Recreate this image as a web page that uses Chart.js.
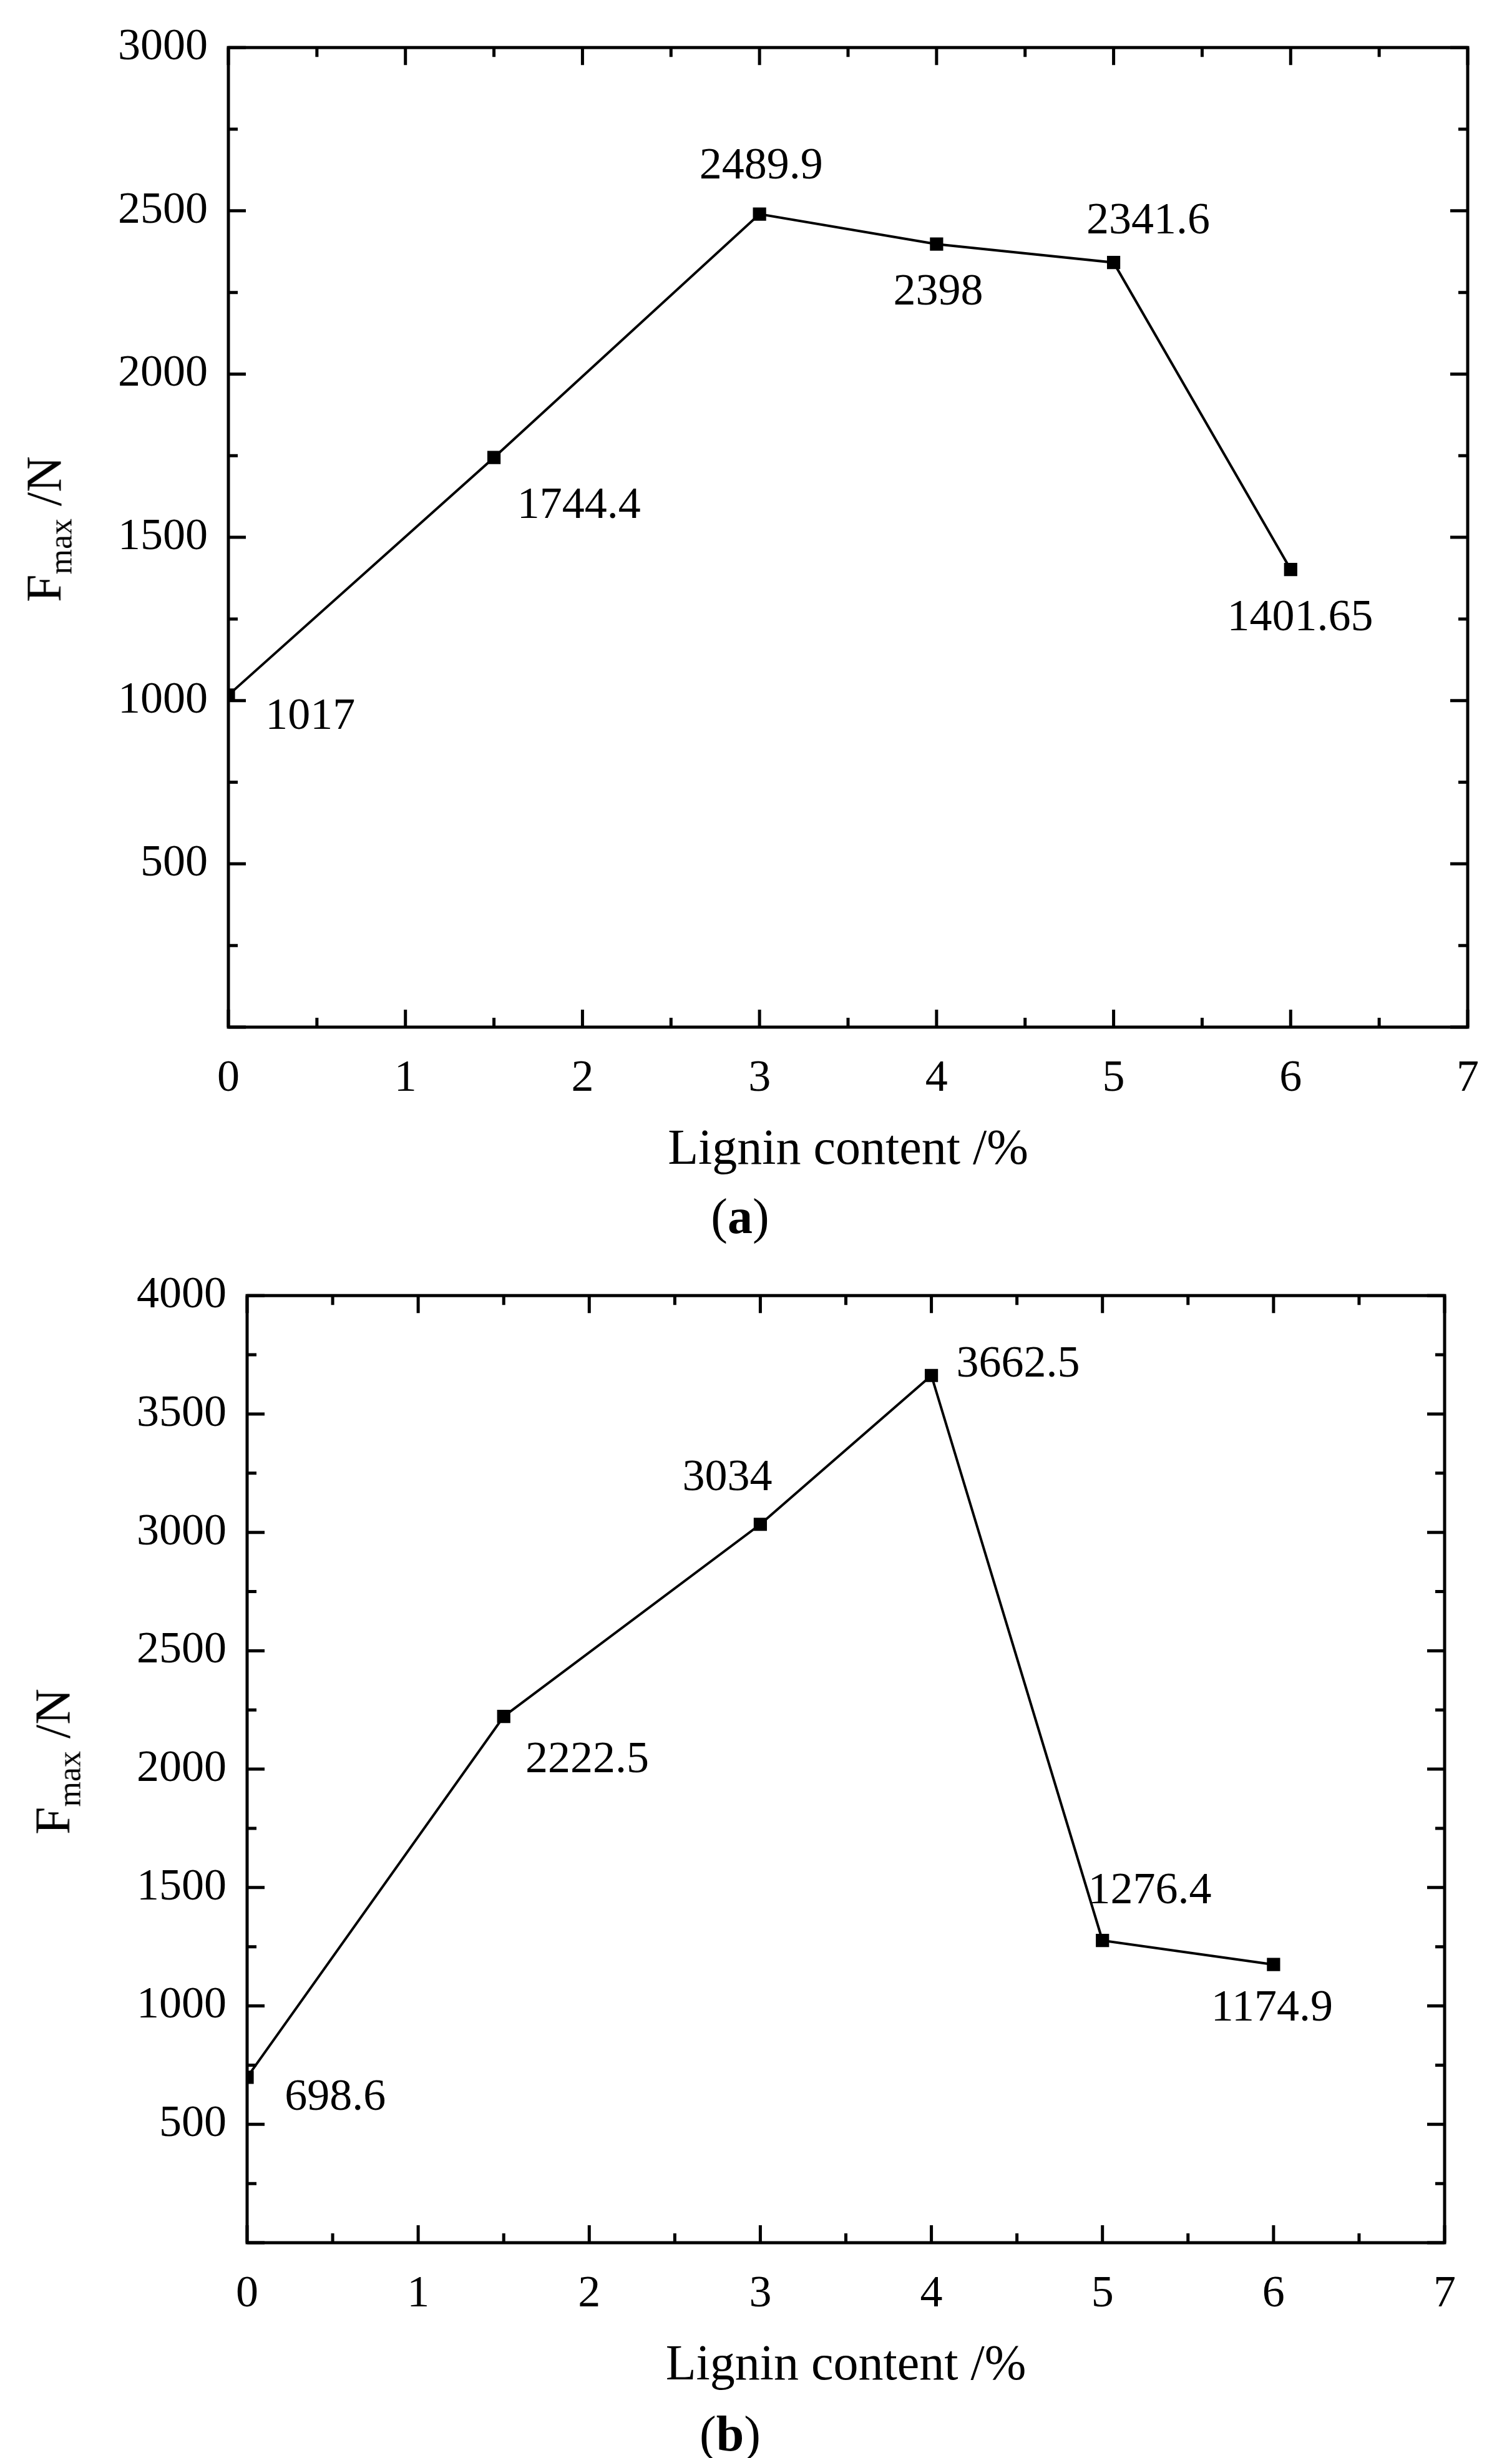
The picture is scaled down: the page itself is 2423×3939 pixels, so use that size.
<!DOCTYPE html>
<html><head><meta charset="utf-8">
<script src="https://cdn.jsdelivr.net/npm/chart.js@4/dist/chart.umd.min.js"></script>
<style>
body{margin:0;background:#fff;width:2423px;height:3939px;position:relative;font-family:"Liberation Serif","DejaVu Serif",serif;}
.box{position:absolute;left:0;width:2423px;}
.yt{position:absolute;font-size:80px;white-space:nowrap;transform:translate(-50%,-50%) rotate(-90deg);}
.yt sub{font-size:52px;}
.cap{position:absolute;font-size:80px;transform:translate(-50%,-50%);}
</style></head><body>
<div class="box" style="top:0;height:1896px"><canvas id="ca"></canvas></div>
<div class="box" style="top:2000px;height:1844px"><canvas id="cb"></canvas></div>
<div class="yt" style="left:76px;top:848px">F<sub>max</sub> /N</div>
<div class="yt" style="left:90px;top:2823px">F<sub>max</sub> /N</div>
<div class="cap" style="left:1186px;top:1949px">(<b>a</b>)</div>
<div class="cap" style="left:1170px;top:3900px">(<b>b</b>)</div>
<script>
const xA=[0,1.5,3,4,5,6];
const yA=[1017,1744.4,2489.9,2398,2341.6,1401.65];
const labA=["1017","1744.4","2489.9","2398","2341.6","1401.65"];
const xB=[0,1.5,3,4,5,6];
const yB=[698.6,2222.5,3034,3662.5,1276.4,1174.9];
const labB=["698.6","2222.5","3034","3662.5","1276.4","1174.9"];
const xTicksMax=7;
const S=2.524;
const offA=[[52,14],[54,31],[1,-30],[1,31],[22,-26],[6,31]];
const offB=[[56,13],[53,28],[-21,-29],[55,-7],[30,-31],[-1,28]];
const FONT='"Liberation Serif","DejaVu Serif",serif';

function make(id,xs,ys,labs,offs,ymax,pad,xTitle){
  const deco={id:'deco',afterDraw(c){
    const ctx=c.ctx,a=c.chartArea,xs_=c.scales.x,ys_=c.scales.y;
    ctx.save();ctx.strokeStyle='#000';ctx.lineWidth=5;
    ctx.strokeRect(a.left,a.top,a.right-a.left,a.bottom-a.top);
    for(let v=0;v<=xTicksMax;v+=0.5){const p=xs_.getPixelForValue(v);const L=(v%1===0)?28:15;
      ctx.beginPath();ctx.moveTo(p,a.bottom);ctx.lineTo(p,a.bottom-L);ctx.moveTo(p,a.top);ctx.lineTo(p,a.top+L);ctx.stroke();}
    for(let v=0;v<=ymax;v+=250){const p=ys_.getPixelForValue(v);const L=(v%500===0)?28:15;
      ctx.beginPath();ctx.moveTo(a.left,p);ctx.lineTo(a.left+L,p);ctx.moveTo(a.right,p);ctx.lineTo(a.right-L,p);ctx.stroke();}
    ctx.fillStyle='#000';ctx.font='72px '+FONT;ctx.textAlign='center';ctx.textBaseline='middle';
    xs.forEach((x,i)=>{ctx.fillText(labs[i],xs_.getPixelForValue(x)+offs[i][0]*S,ys_.getPixelForValue(ys[i])+offs[i][1]*S);});
    ctx.restore();}};
  return new Chart(document.getElementById(id),{type:'scatter',
    data:{datasets:[{data:xs.map((x,i)=>({x:x,y:ys[i]})),showLine:true,borderColor:'#000',borderWidth:4,
      pointStyle:'rect',pointRadius:15,pointBackgroundColor:'#000',pointBorderColor:'#000',pointBorderWidth:0}]},
    options:{responsive:true,maintainAspectRatio:false,animation:false,devicePixelRatio:1,
      layout:{padding:pad},
      plugins:{legend:{display:false},tooltip:{enabled:false}},
      scales:{
        x:{type:'linear',min:0,max:xTicksMax,grid:{display:false,drawTicks:false},border:{display:false},
          afterFit(s){s.height=250;},
          ticks:{stepSize:1,padding:40,color:'#000',font:{family:FONT,size:72}},
          title:{display:true,text:xTitle,color:'#000',font:{family:FONT,size:80},padding:{top:0}}},
        y:{min:0,max:ymax,grid:{display:false,drawTicks:false},border:{display:false},
          afterFit(s){s.width=pad.yw;},
          ticks:{stepSize:500,padding:33,color:'#000',font:{family:FONT,size:72},callback:v=>v===0?'':v}}
      }},plugins:[deco]});
}
make('ca',xA,yA,labA,offA,3000,{left:0,top:50,right:71,bottom:0,yw:366},'Lignin content /%');
make('cb',xB,yB,labB,offB,4000,{left:0,top:52,right:108,bottom:0,yw:396},'Lignin content /%');
</script></body></html>
